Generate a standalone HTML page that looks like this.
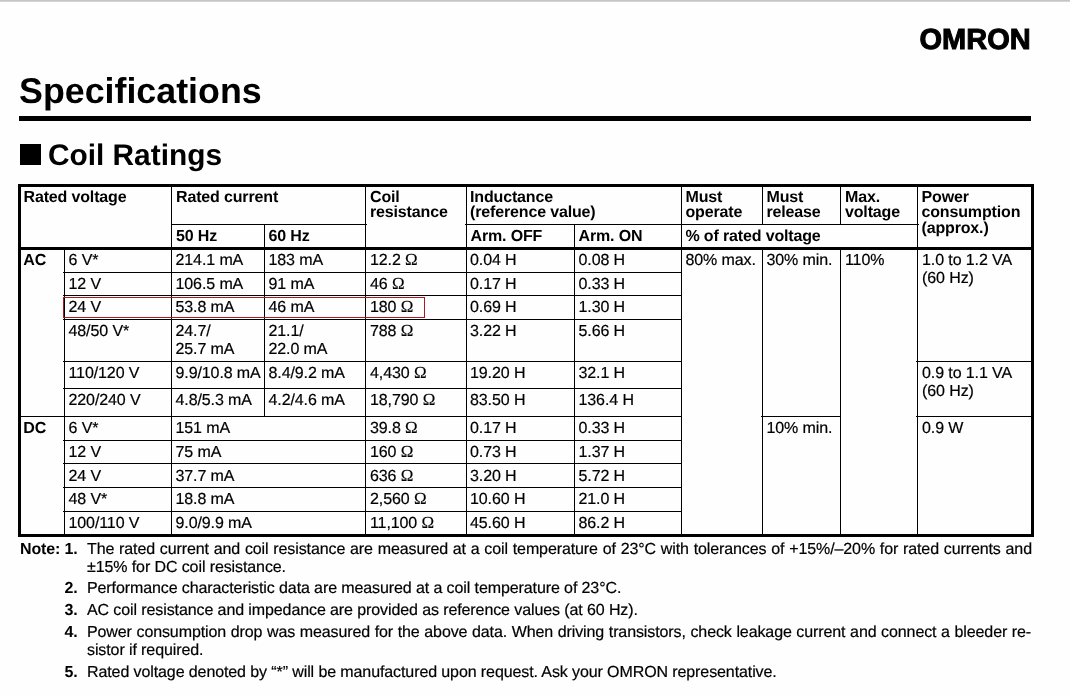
<!DOCTYPE html>
<html lang="en">
<head>
<meta charset="utf-8">
<title>Specifications - Coil Ratings</title>
<style>
html,body{margin:0;padding:0;background:#fefefe;}
body{width:1070px;height:696px;position:relative;overflow:hidden;font-family:"Liberation Sans",sans-serif;color:#000;text-rendering:geometricPrecision;}
.l{position:absolute;background:#000;}
.t{position:absolute;white-space:nowrap;line-height:16px;font-size:16px;letter-spacing:-0.1px;margin:0;padding:0;font-weight:normal;-webkit-text-stroke:0.2px #000;}
.b{font-weight:bold;font-size:16px;letter-spacing:-0.15px;-webkit-text-stroke:0;}
.h1{font-weight:bold;font-size:35.8px;line-height:36px;letter-spacing:0;-webkit-text-stroke:0;}
.h2{font-weight:bold;font-size:29.85px;line-height:30px;letter-spacing:0;-webkit-text-stroke:0;}
.logo{font-weight:bold;font-size:29px;line-height:30px;letter-spacing:0;-webkit-text-stroke:1px #000;}
.om{font-family:"Liberation Serif","DejaVu Serif",serif;font-size:17px;line-height:0;margin-left:0;letter-spacing:0;-webkit-text-stroke:0.15px #000;}
.top{position:absolute;left:0;top:0;width:1070px;height:2px;background:linear-gradient(#bdbdbd,#dcdcdc);}
.hi{position:absolute;box-sizing:border-box;border:1px solid #aa1c1c;}
</style>
</head>
<body>
<div class="top"></div>
<div class="l" style="left:19px;top:116px;width:1012px;height:5px"></div>
<div class="l" style="left:20px;top:144px;width:21px;height:21px"></div>
<div class="l" style="left:18px;top:184px;width:1016px;height:3px"></div>
<div class="l" style="left:18px;top:534px;width:1016px;height:3px"></div>
<div class="l" style="left:18px;top:184px;width:3px;height:353px"></div>
<div class="l" style="left:1031px;top:184px;width:3px;height:353px"></div>
<div class="l" style="left:18px;top:247px;width:1016px;height:3px"></div>
<div class="l" style="left:171px;top:224px;width:196px;height:1px"></div>
<div class="l" style="left:465px;top:224px;width:454px;height:1px"></div>
<div class="l" style="left:64px;top:247px;width:1px;height:290px"></div>
<div class="l" style="left:171px;top:184px;width:1px;height:353px"></div>
<div class="l" style="left:264px;top:224px;width:1px;height:192px"></div>
<div class="l" style="left:365px;top:184px;width:1px;height:353px"></div>
<div class="l" style="left:466px;top:184px;width:1px;height:353px"></div>
<div class="l" style="left:574px;top:224px;width:1px;height:313px"></div>
<div class="l" style="left:681px;top:184px;width:1px;height:353px"></div>
<div class="l" style="left:762px;top:184px;width:1px;height:40px"></div>
<div class="l" style="left:762px;top:247px;width:1px;height:290px"></div>
<div class="l" style="left:840px;top:184px;width:1px;height:40px"></div>
<div class="l" style="left:840px;top:247px;width:1px;height:290px"></div>
<div class="l" style="left:917px;top:184px;width:1px;height:353px"></div>
<div class="l" style="left:63px;top:272px;width:619px;height:1px"></div>
<div class="l" style="left:63px;top:295px;width:619px;height:1px"></div>
<div class="l" style="left:63px;top:319px;width:619px;height:1px"></div>
<div class="l" style="left:63px;top:361px;width:619px;height:1px"></div>
<div class="l" style="left:63px;top:388px;width:619px;height:1px"></div>
<div class="l" style="left:18px;top:416px;width:663px;height:1px"></div>
<div class="l" style="left:761px;top:416px;width:80px;height:1px"></div>
<div class="l" style="left:916px;top:416px;width:118px;height:1px"></div>
<div class="l" style="left:63px;top:440px;width:619px;height:1px"></div>
<div class="l" style="left:63px;top:463px;width:619px;height:1px"></div>
<div class="l" style="left:63px;top:487px;width:619px;height:1px"></div>
<div class="l" style="left:63px;top:511px;width:619px;height:1px"></div>
<div class="l" style="left:916px;top:361px;width:118px;height:1px"></div>
<div class="t b" style="left:23.5px;top:190px">Rated voltage</div>
<div class="t b" style="left:176px;top:190px">Rated current</div>
<div class="t b" style="left:176px;top:229px">50 Hz</div>
<div class="t b" style="left:268.5px;top:229px">60 Hz</div>
<div class="t b" style="left:370px;top:190px">Coil</div>
<div class="t b" style="left:370px;top:205px">resistance</div>
<div class="t b" style="left:470px;top:190px">Inductance</div>
<div class="t b" style="left:470px;top:205px">(reference value)</div>
<div class="t b" style="left:470.5px;top:229px">Arm. OFF</div>
<div class="t b" style="left:578.5px;top:229px">Arm. ON</div>
<div class="t b" style="left:685.5px;top:190px">Must</div>
<div class="t b" style="left:685.5px;top:205px">operate</div>
<div class="t b" style="left:685.5px;top:229px">% of rated voltage</div>
<div class="t b" style="left:766.5px;top:190px">Must</div>
<div class="t b" style="left:766.5px;top:205px">release</div>
<div class="t b" style="left:845px;top:190px">Max.</div>
<div class="t b" style="left:845px;top:205px">voltage</div>
<div class="t b" style="left:921.5px;top:190px">Power</div>
<div class="t b" style="left:921.5px;top:205px">consumption</div>
<div class="t b" style="left:921.5px;top:221px">(approx.)</div>
<div class="t b" style="left:23.3px;top:253px">AC</div>
<div class="t b" style="left:23.3px;top:421px">DC</div>
<div class="t" style="left:68.5px;top:253px">6 V*</div>
<div class="t" style="left:175.5px;top:253px">214.1 mA</div>
<div class="t" style="left:268.5px;top:253px">183 mA</div>
<div class="t" style="left:370px;top:253px">12.2 <span class="om">Ω</span></div>
<div class="t" style="left:470px;top:253px">0.04 H</div>
<div class="t" style="left:578.5px;top:253px">0.08 H</div>
<div class="t" style="left:68.5px;top:277px">12 V</div>
<div class="t" style="left:175.5px;top:277px">106.5 mA</div>
<div class="t" style="left:268.5px;top:277px">91 mA</div>
<div class="t" style="left:370px;top:277px">46 <span class="om">Ω</span></div>
<div class="t" style="left:470px;top:277px">0.17 H</div>
<div class="t" style="left:578.5px;top:277px">0.33 H</div>
<div class="t" style="left:68.5px;top:300px">24 V</div>
<div class="t" style="left:175.5px;top:300px">53.8 mA</div>
<div class="t" style="left:268.5px;top:300px">46 mA</div>
<div class="t" style="left:370px;top:300px">180 <span class="om">Ω</span></div>
<div class="t" style="left:470px;top:300px">0.69 H</div>
<div class="t" style="left:578.5px;top:300px">1.30 H</div>
<div class="t" style="left:68.5px;top:324px">48/50 V*</div>
<div class="t" style="left:175.5px;top:324px">24.7/</div>
<div class="t" style="left:268.5px;top:324px">21.1/</div>
<div class="t" style="left:370px;top:324px">788 <span class="om">Ω</span></div>
<div class="t" style="left:470px;top:324px">3.22 H</div>
<div class="t" style="left:578.5px;top:324px">5.66 H</div>
<div class="t" style="left:68.5px;top:366px">110/120 V</div>
<div class="t" style="left:175.5px;top:366px">9.9/10.8 mA</div>
<div class="t" style="left:268.5px;top:366px">8.4/9.2 mA</div>
<div class="t" style="left:370px;top:366px">4,430 <span class="om">Ω</span></div>
<div class="t" style="left:470px;top:366px">19.20 H</div>
<div class="t" style="left:578.5px;top:366px">32.1 H</div>
<div class="t" style="left:68.5px;top:393px">220/240 V</div>
<div class="t" style="left:175.5px;top:393px">4.8/5.3 mA</div>
<div class="t" style="left:268.5px;top:393px">4.2/4.6 mA</div>
<div class="t" style="left:370px;top:393px">18,790 <span class="om">Ω</span></div>
<div class="t" style="left:470px;top:393px">83.50 H</div>
<div class="t" style="left:578.5px;top:393px">136.4 H</div>
<div class="t" style="left:68.5px;top:421px">6 V*</div>
<div class="t" style="left:175.5px;top:421px">151 mA</div>
<div class="t" style="left:370px;top:421px">39.8 <span class="om">Ω</span></div>
<div class="t" style="left:470px;top:421px">0.17 H</div>
<div class="t" style="left:578.5px;top:421px">0.33 H</div>
<div class="t" style="left:68.5px;top:445px">12 V</div>
<div class="t" style="left:175.5px;top:445px">75 mA</div>
<div class="t" style="left:370px;top:445px">160 <span class="om">Ω</span></div>
<div class="t" style="left:470px;top:445px">0.73 H</div>
<div class="t" style="left:578.5px;top:445px">1.37 H</div>
<div class="t" style="left:68.5px;top:469px">24 V</div>
<div class="t" style="left:175.5px;top:469px">37.7 mA</div>
<div class="t" style="left:370px;top:469px">636 <span class="om">Ω</span></div>
<div class="t" style="left:470px;top:469px">3.20 H</div>
<div class="t" style="left:578.5px;top:469px">5.72 H</div>
<div class="t" style="left:68.5px;top:492px">48 V*</div>
<div class="t" style="left:175.5px;top:492px">18.8 mA</div>
<div class="t" style="left:370px;top:492px">2,560 <span class="om">Ω</span></div>
<div class="t" style="left:470px;top:492px">10.60 H</div>
<div class="t" style="left:578.5px;top:492px">21.0 H</div>
<div class="t" style="left:68.5px;top:516px">100/110 V</div>
<div class="t" style="left:175.5px;top:516px">9.0/9.9 mA</div>
<div class="t" style="left:370px;top:516px">11,100 <span class="om">Ω</span></div>
<div class="t" style="left:470px;top:516px">45.60 H</div>
<div class="t" style="left:578.5px;top:516px">86.2 H</div>
<div class="t" style="left:175.5px;top:342px">25.7 mA</div>
<div class="t" style="left:268.5px;top:342px">22.0 mA</div>
<div class="t" style="left:685.5px;top:253px">80% max.</div>
<div class="t" style="left:766.5px;top:253px">30% min.</div>
<div class="t" style="left:766.5px;top:421px">10% min.</div>
<div class="t" style="left:845px;top:253px">110%</div>
<div class="t" style="left:922px;top:253px">1.0 to 1.2 VA</div>
<div class="t" style="left:922px;top:271px">(60 Hz)</div>
<div class="t" style="left:922px;top:366px">0.9 to 1.1 VA</div>
<div class="t" style="left:922px;top:384px">(60 Hz)</div>
<div class="t" style="left:922px;top:421px">0.9 W</div>
<div class="t b" style="left:20px;top:542px">Note:</div>
<div class="t b" style="left:64.5px;top:542px">1.</div>
<div class="t" style="left:87px;top:542px;word-spacing:0.45px">The rated current and coil resistance are measured at a coil temperature of 23°C with tolerances of +15%/–20% for rated currents and</div>
<div class="t" style="left:87px;top:560px">±15% for DC coil resistance.</div>
<div class="t b" style="left:64.5px;top:581px">2.</div>
<div class="t" style="left:87px;top:581px">Performance characteristic data are measured at a coil temperature of 23°C.</div>
<div class="t b" style="left:64.5px;top:603px">3.</div>
<div class="t" style="left:87px;top:603px">AC coil resistance and impedance are provided as reference values (at 60 Hz).</div>
<div class="t b" style="left:64.5px;top:625px">4.</div>
<div class="t" style="left:87px;top:625px;word-spacing:0.28px">Power consumption drop was measured for the above data. When driving transistors, check leakage current and connect a bleeder re-</div>
<div class="t" style="left:87px;top:643px">sistor if required.</div>
<div class="t b" style="left:64.5px;top:665px">5.</div>
<div class="t" style="left:87px;top:665px">Rated voltage denoted by “*” will be manufactured upon request. Ask your OMRON representative.</div>
<h1 class="t h1" style="left:19px;top:73px">Specifications</h1>
<h2 class="t h2" style="left:47.9px;top:141px">Coil Ratings</h2>
<div class="t logo" style="left:919.5px;top:25px">OMRON</div>
<div class="hi" style="left:63px;top:297px;width:362px;height:21px"></div>
</body>
</html>
